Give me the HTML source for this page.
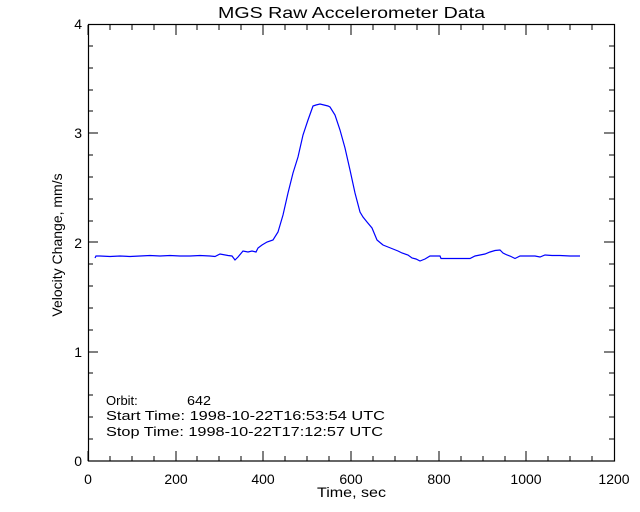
<!DOCTYPE html>
<html><head><style>body{margin:0;background:#fff}svg{display:block}</style></head><body>
<svg width="640" height="512" xmlns="http://www.w3.org/2000/svg" font-family="Liberation Sans, sans-serif" font-size="14" fill="#000">
<rect width="640" height="512" fill="#fff"/>
<rect x="88.5" y="24.5" width="526" height="436.5" stroke="#000" stroke-width="1.2" fill="none"/>
<polyline fill="none" stroke="#0000ff" stroke-width="1.2" points="95,258 96,256 100,256 110,256.5 120,256 130,256.5 140,256 150,255.5 160,256 170,255.5 180,256 190,256 200,255.5 210,256 215,256.5 220,254 228,255.5 232,256 235,260 238,257 243,251 248,252 252,251 256,252 258,248 262,245 267,242 273,240 278,232 283,215 288,193 293,173 298,157 303,135 308,120 313,106 316,105 320,104 324,105 328,106 330,107 335,115 340,130 345,148 350,170 355,193 360,212 363,217 367,222 372,228 377,240 383,245 388,247 393,249 398,251 402,253 408,255 412,258 416,259 420,261 425,259 430,256 435,256 440,256 441,258.5 450,258.5 460,258.5 470,258.5 475,256 480,255 485,254 490,252 495,250.5 500,250 503,253 507,255 510,256 515,258.5 518,257 520,256 530,256 535,256 540,257 545,255 552,255.5 560,255.5 570,256 580,256"/>
<text x="218" y="18" font-size="16" textLength="267" lengthAdjust="spacingAndGlyphs">MGS Raw Accelerometer Data</text>
<text x="317" y="497" textLength="69" lengthAdjust="spacingAndGlyphs">Time, sec</text>
<text transform="translate(62,245) rotate(-90)" text-anchor="middle">Velocity Change, mm/s</text>
<text x="106" y="405" font-size="13">Orbit:</text>
<text x="187" y="405" font-size="13" textLength="24" lengthAdjust="spacingAndGlyphs">642</text>
<text x="106" y="420" font-size="13" textLength="279" lengthAdjust="spacingAndGlyphs">Start Time: 1998-10-22T16:53:54 UTC</text>
<text x="106" y="436" font-size="13" textLength="277" lengthAdjust="spacingAndGlyphs">Stop Time: 1998-10-22T17:12:57 UTC</text>
<g text-anchor="middle">
<text x="88" y="484">0</text><text x="176" y="484">200</text><text x="263" y="484">400</text><text x="351" y="484">600</text><text x="439" y="484">800</text><text x="526" y="484">1000</text><text x="614" y="484">1200</text>
</g>
<g text-anchor="end">
<text x="82" y="466">0</text><text x="82" y="357">1</text><text x="82" y="248">2</text><text x="82" y="138">3</text><text x="82" y="29">4</text>
</g>
<path stroke="#000" stroke-width="1" fill="none" d="
M88,461v-10M88,25v10
M176,461v-10M176,25v10
M263,461v-10M263,25v10
M351,461v-10M351,25v10
M439,461v-10M439,25v10
M526,461v-10M526,25v10
M110,461v-5M110,25v5M132,461v-5M132,25v5M154,461v-5M154,25v5
M197,461v-5M197,25v5M219,461v-5M219,25v5M241,461v-5M241,25v5
M285,461v-5M285,25v5M307,461v-5M307,25v5M329,461v-5M329,25v5
M373,461v-5M373,25v5M395,461v-5M395,25v5M417,461v-5M417,25v5
M461,461v-5M461,25v5M483,461v-5M483,25v5M505,461v-5M505,25v5
M548,461v-5M548,25v5M570,461v-5M570,25v5M592,461v-5M592,25v5
M88,352h10M614,352h-10M88,242h10M614,242h-10M88,133h10M614,133h-10
M88,439h5M614,439h-5M88,417h5M614,417h-5M88,395h5M614,395h-5M88,373h5M614,373h-5
M88,330h5M614,330h-5M88,308h5M614,308h-5M88,286h5M614,286h-5M88,264h5M614,264h-5
M88,221h5M614,221h-5M88,199h5M614,199h-5M88,177h5M614,177h-5M88,155h5M614,155h-5
M88,111h5M614,111h-5M88,90h5M614,90h-5M88,68h5M614,68h-5M88,46h5M614,46h-5"/>
</svg>
</body></html>
